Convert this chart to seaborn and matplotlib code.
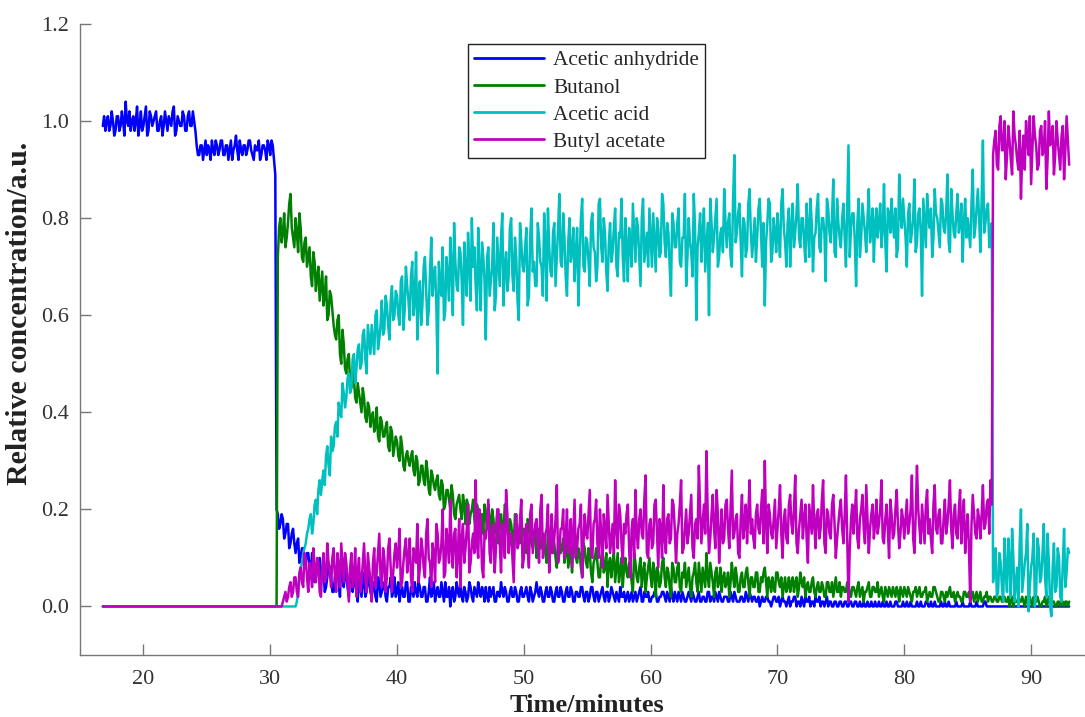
import numpy as np
import pandas as pd
import matplotlib
matplotlib.use("Agg")
import matplotlib.pyplot as plt
import seaborn as sns

# ---- data ----
# Each series is read at two interleaved sample grids:
#   main list : t = 16.8, 17.0, 17.2, ... (every 0.2 min)
#   *_mid     : t = 16.9, 17.1, 17.3, ... (every 0.2 min)
time_start = 16.8
time_start_mid = 16.9
time_step = 0.2

series_names = ["Acetic anhydride", "Butanol", "Acetic acid", "Butyl acetate"]
series_colors = ["#0000ff", "#008000", "#00bfbf", "#bf00bf"]

acetic_anhydride = [0.99,
    0.98, 1.01, 0.99, 1.00, 0.98,
    1.01, 0.99, 1.00, 1.04, 0.99,
    0.98, 1.01, 1.00, 0.97, 1.02,
    0.99, 1.03, 0.98, 1.01, 1.00,
    1.02, 0.98, 1.01, 0.99, 1.00,
    1.01, 0.99, 1.03, 0.98, 1.00,
    0.99, 1.01, 0.98, 1.02, 0.99,
    1.00, 0.95, 0.93, 0.95, 0.94,
    0.93, 0.94, 0.96, 0.93, 0.95,
    0.94, 0.96, 0.93, 0.95, 0.94,
    0.92, 0.95, 0.94, 0.96, 0.93,
    0.95, 0.94, 0.96, 0.93, 0.95,
    0.94, 0.92, 0.95, 0.94, 0.96,
    0.93, 0.95, 0.89, 0.19, 0.17,
    0.18, 0.15, 0.17, 0.13, 0.16,
    0.11, 0.14, 0.10, 0.12, 0.09,
    0.11, 0.07, 0.10, 0.06, 0.09,
    0.05, 0.08, 0.04, 0.09, 0.06,
    0.03, 0.07, 0.05, 0.10, 0.04,
    0.06, 0.02, 0.08, 0.05, 0.03,
    0.06, 0.02, 0.05, 0.03, 0.07,
    0.02, 0.04, 0.01, 0.05, 0.03,
    0.05, 0.01, 0.04, 0.02, 0.06,
    0.03, 0.01, 0.04, 0.02, 0.05,
    0.01, 0.03, 0.05, 0.02, 0.04,
    0.02, 0.04, 0.01, 0.06, 0.03,
    0.01, 0.04, 0.02, 0.03, 0.05,
    0.02, 0.00, 0.04, 0.02, 0.03,
    0.05, 0.01, 0.03, 0.02, 0.04,
    0.01, 0.03, 0.05, 0.02, 0.03,
    0.04, 0.01, 0.02, 0.04, 0.01,
    0.03, 0.05, 0.02, 0.03, 0.01,
    0.04, 0.02, 0.03, 0.01, 0.04,
    0.02, 0.04, 0.01, 0.03, 0.02,
    0.05, 0.02, 0.03, 0.01, 0.04,
    0.02, 0.03, 0.01, 0.04, 0.02,
    0.03, 0.01, 0.04, 0.02, 0.03,
    0.01, 0.03, 0.02, 0.04, 0.01,
    0.03, 0.02, 0.04, 0.01, 0.03,
    0.02, 0.04, 0.01, 0.03, 0.02,
    0.03, 0.01, 0.02, 0.04, 0.02,
    0.01, 0.03, 0.02, 0.01, 0.03,
    0.02, 0.04, 0.01, 0.02, 0.03,
    0.01, 0.02, 0.03, 0.01, 0.02,
    0.03, 0.01, 0.02, 0.04, 0.01,
    0.02, 0.03, 0.01, 0.02, 0.01,
    0.03, 0.01, 0.02, 0.01, 0.03,
    0.01, 0.02, 0.01, 0.03, 0.02,
    0.01, 0.02, 0.03, 0.01, 0.02,
    0.02, 0.01, 0.02, 0.03, 0.01,
    0.01, 0.02, 0.01, 0.02, 0.03,
    0.01, 0.02, 0.01, 0.00, 0.02,
    0.01, 0.02, 0.01, 0.01, 0.02,
    0.01, 0.00, 0.02, 0.01, 0.01,
    0.00, 0.01, 0.02, 0.01, 0.00,
    0.01, 0.02, 0.01, 0.00, 0.01,
    0.02, 0.01, 0.00, 0.01, 0.01,
    0.00, 0.01, 0.00, 0.01, 0.00,
    0.01, 0.00, 0.01, 0.00, 0.01,
    0.00, 0.01, 0.00, 0.00, 0.01,
    0.00, 0.00, 0.01, 0.00, 0.00,
    0.01, 0.00, 0.00, 0.01, 0.00,
    0.00, 0.00, 0.01, 0.00, 0.00,
    0.00, 0.01, 0.00, 0.00, 0.00,
    0.01, 0.00, 0.00, 0.00, 0.01,
    0.00, 0.00, 0.01, 0.00, 0.00,
    0.00, 0.01, 0.00, 0.00, 0.00,
    0.00, 0.00, 0.00, 0.01, 0.00,
    0.00, 0.01, 0.00, 0.00, 0.00,
    0.00, 0.00, 0.01, 0.00, 0.00,
    0.00, 0.00, 0.00, 0.00, 0.00,
    0.00, 0.00, 0.00, 0.00, 0.00,
    0.00, 0.00, 0.00, 0.00, 0.00,
    0.00, 0.00, 0.00, 0.00, 0.00,
    0.00, 0.00, 0.00, 0.00, 0.00,
    0.00, 0.00, 0.00, 0.00, 0.00,
    0.00]

acetic_anhydride_mid = [1.01,
    1.00, 0.98, 1.02, 0.97, 1.01,
    0.98, 1.02, 0.97, 1.00, 1.02,
    1.00, 0.98, 1.03, 0.99, 0.98,
    1.01, 0.97, 1.02, 0.99, 1.01,
    0.98, 1.00, 0.97, 1.02, 0.98,
    1.00, 1.02, 0.97, 1.01, 0.99,
    1.02, 0.98, 1.01, 0.99, 1.02,
    0.98, 0.93, 0.95, 0.92, 0.96,
    0.95, 0.92, 0.94, 0.96, 0.93,
    0.96, 0.93, 0.95, 0.92, 0.96,
    0.94, 0.97, 0.92, 0.94, 0.95,
    0.93, 0.96, 0.94, 0.92, 0.94,
    0.96, 0.93, 0.95, 0.92, 0.95,
    0.96, 0.92, 0.20, 0.16, 0.19,
    0.14, 0.17, 0.12, 0.15, 0.13,
    0.13, 0.09, 0.12, 0.08, 0.11,
    0.08, 0.11, 0.05, 0.08, 0.10,
    0.07, 0.03, 0.06, 0.08, 0.03,
    0.06, 0.09, 0.02, 0.06, 0.08,
    0.04, 0.07, 0.03, 0.06, 0.01,
    0.04, 0.07, 0.02, 0.05, 0.03,
    0.05, 0.02, 0.06, 0.02, 0.04,
    0.02, 0.04, 0.06, 0.03, 0.02,
    0.05, 0.03, 0.02, 0.05, 0.01,
    0.04, 0.02, 0.03, 0.05, 0.02,
    0.04, 0.01, 0.03, 0.02, 0.05,
    0.03, 0.02, 0.05, 0.01, 0.02,
    0.04, 0.03, 0.01, 0.05, 0.02,
    0.02, 0.04, 0.01, 0.05, 0.02,
    0.04, 0.02, 0.03, 0.04, 0.01,
    0.02, 0.04, 0.03, 0.01, 0.03,
    0.02, 0.03, 0.04, 0.01, 0.03,
    0.02, 0.04, 0.01, 0.03, 0.02,
    0.03, 0.02, 0.04, 0.01, 0.03,
    0.03, 0.04, 0.01, 0.03, 0.02,
    0.04, 0.01, 0.03, 0.02, 0.04,
    0.01, 0.03, 0.02, 0.04, 0.01,
    0.03, 0.02, 0.04, 0.02, 0.03,
    0.01, 0.04, 0.02, 0.03, 0.01,
    0.03, 0.02, 0.03, 0.01, 0.04,
    0.02, 0.03, 0.01, 0.02, 0.03,
    0.02, 0.01, 0.03, 0.02, 0.01,
    0.03, 0.01, 0.03, 0.02, 0.01,
    0.02, 0.03, 0.01, 0.02, 0.03,
    0.02, 0.03, 0.01, 0.02, 0.03,
    0.01, 0.02, 0.03, 0.01, 0.02,
    0.02, 0.03, 0.01, 0.02, 0.01,
    0.02, 0.01, 0.03, 0.01, 0.02,
    0.03, 0.01, 0.02, 0.01, 0.02,
    0.01, 0.03, 0.01, 0.02, 0.01,
    0.02, 0.01, 0.03, 0.01, 0.02,
    0.02, 0.01, 0.02, 0.01, 0.01,
    0.02, 0.01, 0.00, 0.02, 0.01,
    0.02, 0.01, 0.01, 0.00, 0.02,
    0.01, 0.02, 0.00, 0.01, 0.02,
    0.00, 0.01, 0.02, 0.01, 0.00,
    0.01, 0.02, 0.01, 0.00, 0.02,
    0.01, 0.00, 0.01, 0.00, 0.01,
    0.00, 0.01, 0.00, 0.01, 0.00,
    0.01, 0.00, 0.01, 0.00, 0.00,
    0.01, 0.00, 0.00, 0.01, 0.00,
    0.00, 0.01, 0.00, 0.00, 0.01,
    0.00, 0.01, 0.00, 0.00, 0.01,
    0.00, 0.00, 0.01, 0.00, 0.00,
    0.00, 0.01, 0.00, 0.01, 0.00,
    0.01, 0.00, 0.00, 0.00, 0.01,
    0.00, 0.00, 0.01, 0.00, 0.00,
    0.01, 0.00, 0.00, 0.00, 0.00,
    0.00, 0.00, 0.00, 0.01, 0.00,
    0.00, 0.01, 0.00, 0.00, 0.00,
    0.00, 0.00, 0.00, 0.00, 0.00,
    0.00, 0.00, 0.00, 0.00, 0.00,
    0.00, 0.00, 0.00, 0.00, 0.00,
    0.00, 0.00, 0.00, 0.00, 0.00,
    0.00, 0.00, 0.00, 0.00, 0.00,
    0.00, 0.00, 0.00, 0.00, 0.00]

butanol = [0.0] * 69 + [0.72, 0.80,
    0.77, 0.74, 0.79, 0.85, 0.76,
    0.80, 0.73, 0.78, 0.71, 0.76,
    0.72, 0.68, 0.73, 0.65, 0.70,
    0.66, 0.62, 0.68, 0.60, 0.64,
    0.58, 0.55, 0.60, 0.50, 0.54,
    0.48, 0.52, 0.45, 0.47, 0.42,
    0.44, 0.40, 0.43, 0.38, 0.41,
    0.39, 0.36, 0.41, 0.34, 0.38,
    0.35, 0.38, 0.32, 0.36, 0.33,
    0.34, 0.30, 0.33, 0.28, 0.32,
    0.29, 0.32, 0.27, 0.30, 0.26,
    0.29, 0.25, 0.28, 0.23, 0.27,
    0.24, 0.27, 0.22, 0.25, 0.21,
    0.24, 0.20, 0.23, 0.18, 0.22,
    0.20, 0.23, 0.17, 0.21, 0.19,
    0.22, 0.16, 0.20, 0.18, 0.15,
    0.19, 0.21, 0.14, 0.18, 0.16,
    0.13, 0.19, 0.16, 0.20, 0.14,
    0.17, 0.12, 0.18, 0.15, 0.13,
    0.16, 0.11, 0.17, 0.13, 0.15,
    0.10, 0.16, 0.12, 0.14, 0.09,
    0.15, 0.11, 0.13, 0.08, 0.14,
    0.12, 0.09, 0.14, 0.10, 0.07,
    0.13, 0.09, 0.11, 0.06, 0.12,
    0.08, 0.11, 0.05, 0.10, 0.09,
    0.06, 0.12, 0.08, 0.04, 0.10,
    0.09, 0.05, 0.11, 0.07, 0.04,
    0.10, 0.06, 0.08, 0.03, 0.09,
    0.05, 0.10, 0.07, 0.03, 0.08,
    0.06, 0.09, 0.02, 0.07, 0.05,
    0.10, 0.04, 0.07, 0.02, 0.08,
    0.05, 0.09, 0.03, 0.06, 0.04,
    0.08, 0.02, 0.07, 0.05, 0.09,
    0.03, 0.06, 0.11, 0.04, 0.07,
    0.02, 0.08, 0.05, 0.03, 0.07,
    0.05, 0.02, 0.09, 0.04, 0.06,
    0.03, 0.07, 0.04, 0.08, 0.02,
    0.06, 0.04, 0.07, 0.03, 0.05,
    0.08, 0.02, 0.05, 0.06, 0.03,
    0.07, 0.04, 0.02, 0.06, 0.04,
    0.03, 0.06, 0.05, 0.02, 0.07,
    0.04, 0.02, 0.05, 0.03, 0.06,
    0.02, 0.05, 0.03, 0.04, 0.02,
    0.05, 0.03, 0.02, 0.06, 0.03,
    0.02, 0.04, 0.03, 0.05, 0.02,
    0.04, 0.02, 0.05, 0.03, 0.01,
    0.03, 0.05, 0.02, 0.04, 0.03,
    0.02, 0.04, 0.01, 0.03, 0.04,
    0.02, 0.03, 0.04, 0.01, 0.03,
    0.04, 0.02, 0.03, 0.01, 0.03,
    0.02, 0.04, 0.02, 0.03, 0.01,
    0.03, 0.02, 0.04, 0.02, 0.01,
    0.03, 0.01, 0.02, 0.04, 0.02,
    0.01, 0.03, 0.02, 0.01, 0.03,
    0.02, 0.01, 0.03, 0.02, 0.01,
    0.03, 0.01, 0.02, 0.01, 0.02,
    0.01, 0.02, 0.01, 0.02, 0.01,
    0.01, 0.02, 0.01, 0.00, 0.01,
    0.02, 0.01, 0.01, 0.02, 0.00,
    0.01, 0.02, 0.01, 0.01, 0.00,
    0.01, 0.00, 0.02, 0.01, 0.01,
    0.00, 0.01, 0.01, 0.00, 0.01,
    0.01]

butanol_mid = [0.0] * 69 + [0.78, 0.75,
    0.81, 0.76, 0.83, 0.78, 0.74,
    0.77, 0.81, 0.72, 0.75, 0.70,
    0.74, 0.66, 0.71, 0.68, 0.63,
    0.69, 0.64, 0.59, 0.65, 0.61,
    0.56, 0.59, 0.52, 0.57, 0.49,
    0.51, 0.46, 0.49, 0.43, 0.46,
    0.42, 0.45, 0.39, 0.42, 0.37,
    0.40, 0.37, 0.35, 0.39, 0.35,
    0.37, 0.33, 0.37, 0.31, 0.35,
    0.31, 0.35, 0.29, 0.31, 0.30,
    0.31, 0.28, 0.31, 0.25, 0.29,
    0.26, 0.30, 0.24, 0.28, 0.25,
    0.26, 0.23, 0.26, 0.20, 0.24,
    0.22, 0.25, 0.19, 0.21, 0.23,
    0.18, 0.21, 0.22, 0.17, 0.20,
    0.18, 0.21, 0.15, 0.19, 0.21,
    0.16, 0.18, 0.20, 0.15, 0.19,
    0.17, 0.15, 0.21, 0.16, 0.18,
    0.14, 0.19, 0.13, 0.17, 0.16,
    0.13, 0.18, 0.14, 0.12, 0.16,
    0.14, 0.12, 0.15, 0.11, 0.16,
    0.12, 0.14, 0.10, 0.13, 0.11,
    0.14, 0.11, 0.08, 0.12, 0.13,
    0.10, 0.12, 0.08, 0.13, 0.09,
    0.12, 0.07, 0.09, 0.12, 0.06,
    0.10, 0.07, 0.11, 0.09, 0.06,
    0.11, 0.08, 0.05, 0.10, 0.08,
    0.07, 0.09, 0.05, 0.11, 0.06,
    0.08, 0.04, 0.09, 0.06, 0.10,
    0.04, 0.07, 0.08, 0.04, 0.09,
    0.06, 0.08, 0.04, 0.09, 0.05,
    0.08, 0.04, 0.07, 0.09, 0.06,
    0.04, 0.06, 0.09, 0.03, 0.06,
    0.08, 0.04, 0.06, 0.09, 0.05,
    0.07, 0.04, 0.08, 0.06, 0.04,
    0.07, 0.05, 0.06, 0.08, 0.03,
    0.06, 0.04, 0.07, 0.05, 0.06,
    0.04, 0.07, 0.03, 0.06, 0.07,
    0.05, 0.06, 0.03, 0.04, 0.07,
    0.05, 0.06, 0.04, 0.03, 0.06,
    0.05, 0.03, 0.06, 0.04, 0.05,
    0.06, 0.04, 0.03, 0.05, 0.03,
    0.04, 0.03, 0.05, 0.02, 0.05,
    0.03, 0.05, 0.04, 0.03, 0.05,
    0.04, 0.03, 0.05, 0.02, 0.04,
    0.03, 0.04, 0.02, 0.04, 0.03,
    0.04, 0.02, 0.04, 0.03, 0.05,
    0.03, 0.02, 0.04, 0.02, 0.03,
    0.04, 0.02, 0.03, 0.04, 0.02,
    0.03, 0.04, 0.02, 0.03, 0.04,
    0.03, 0.02, 0.03, 0.04, 0.02,
    0.02, 0.04, 0.03, 0.01, 0.03,
    0.02, 0.03, 0.03, 0.02, 0.03,
    0.02, 0.02, 0.01, 0.03, 0.02,
    0.03, 0.02, 0.01, 0.03, 0.02,
    0.01, 0.02, 0.03, 0.02, 0.01,
    0.02, 0.01, 0.02, 0.01, 0.02,
    0.01, 0.00, 0.02, 0.01, 0.01,
    0.01, 0.02, 0.00, 0.01, 0.02,
    0.00, 0.01, 0.02, 0.00, 0.01,
    0.02, 0.01, 0.00, 0.01, 0.00,
    0.01, 0.00, 0.01, 0.01, 0.00]

acetic_acid = [0.0] * 76 + [
    0.00, 0.03, 0.08, 0.11, 0.13,
    0.16, 0.19, 0.17, 0.22, 0.24,
    0.23, 0.28, 0.31, 0.29, 0.35,
    0.33, 0.38, 0.42, 0.39, 0.44,
    0.43, 0.48, 0.45, 0.52, 0.49,
    0.54, 0.50, 0.57, 0.48, 0.55,
    0.58, 0.52, 0.61, 0.55, 0.63,
    0.57, 0.62, 0.55, 0.66, 0.60,
    0.64, 0.58, 0.68, 0.61, 0.66,
    0.59, 0.71, 0.63, 0.55, 0.67,
    0.62, 0.72, 0.58, 0.69, 0.64,
    0.70, 0.48, 0.66, 0.74, 0.61,
    0.68, 0.76, 0.60, 0.71, 0.65,
    0.73, 0.58, 0.69, 0.77, 0.63,
    0.70, 0.66, 0.78, 0.61, 0.72,
    0.55, 0.74, 0.67, 0.79, 0.64,
    0.71, 0.76, 0.62, 0.73, 0.68,
    0.80, 0.65, 0.72, 0.59, 0.75,
    0.69, 0.78, 0.64, 0.82, 0.71,
    0.66, 0.76, 0.70, 0.81, 0.63,
    0.74, 0.68, 0.79, 0.72, 0.85,
    0.70, 0.76, 0.64, 0.80, 0.73,
    0.67, 0.78, 0.72, 0.84, 0.69,
    0.75, 0.66, 0.81, 0.73, 0.70,
    0.84, 0.71, 0.77, 0.65, 0.79,
    0.73, 0.82, 0.68, 0.76, 0.72,
    0.80, 0.67, 0.75, 0.83, 0.71,
    0.78, 0.66, 0.84, 0.74, 0.70,
    0.76, 0.81, 0.69, 0.78, 0.73,
    0.83, 0.72, 0.77, 0.64, 0.79,
    0.74, 0.82, 0.70, 0.76, 0.66,
    0.80, 0.73, 0.85, 0.59, 0.77,
    0.71, 0.82, 0.74, 0.60, 0.79,
    0.76, 0.84, 0.72, 0.78, 0.86,
    0.74, 0.81, 0.70, 0.93, 0.77,
    0.83, 0.68, 0.79, 0.74, 0.86,
    0.72, 0.80, 0.76, 0.84, 0.70,
    0.62, 0.79, 0.83, 0.73, 0.77,
    0.81, 0.72, 0.86, 0.75, 0.79,
    0.70, 0.83, 0.77, 0.87, 0.74,
    0.80, 0.71, 0.78, 0.84, 0.69,
    0.77, 0.85, 0.73, 0.80, 0.67,
    0.82, 0.75, 0.88, 0.72, 0.79,
    0.74, 0.83, 0.70, 0.95, 0.78,
    0.81, 0.66, 0.84, 0.76, 0.80,
    0.73, 0.86, 0.78, 0.71, 0.82,
    0.79, 0.74, 0.87, 0.69, 0.81,
    0.84, 0.76, 0.72, 0.89, 0.78,
    0.80, 0.70, 0.83, 0.77, 0.88,
    0.75, 0.82, 0.64, 0.79, 0.85,
    0.78, 0.72, 0.86, 0.80, 0.74,
    0.83, 0.77, 0.89, 0.73, 0.81,
    0.76, 0.85, 0.79, 0.71, 0.84,
    0.80, 0.74, 0.90, 0.78, 0.86,
    0.73, 0.96, 0.79, 0.83, 0.76,
    0.05, 0.12, 0.03, 0.09, 0.01,
    0.07, 0.14, 0.02, 0.10, 0.05,
    0.00, 0.20, 0.06, 0.11, -0.01,
    0.08, 0.15, 0.03, 0.12, 0.06,
    0.17, 0.02, 0.09, -0.02, 0.13,
    0.04, 0.10, 0.01, 0.16, 0.07,
    0.11]

acetic_acid_mid = [0.0] * 76 + [
    0.01, 0.06, 0.09, 0.12, 0.15,
    0.18, 0.15, 0.21, 0.19, 0.26,
    0.26, 0.25, 0.33, 0.27, 0.32,
    0.37, 0.35, 0.40, 0.46, 0.41,
    0.47, 0.44, 0.51, 0.46, 0.53,
    0.49, 0.56, 0.51, 0.58, 0.52,
    0.55, 0.60, 0.53, 0.58, 0.56,
    0.64, 0.58, 0.63, 0.59, 0.65,
    0.60, 0.67, 0.57, 0.70, 0.63,
    0.68, 0.60, 0.73, 0.64, 0.58,
    0.70, 0.65, 0.61, 0.76, 0.68,
    0.62, 0.71, 0.64, 0.59, 0.72,
    0.63, 0.70, 0.79, 0.66, 0.74,
    0.67, 0.75, 0.64, 0.71, 0.80,
    0.74, 0.61, 0.69, 0.75, 0.67,
    0.72, 0.64, 0.70, 0.61, 0.76,
    0.66, 0.81, 0.70, 0.65, 0.78,
    0.68, 0.76, 0.63, 0.79, 0.70,
    0.74, 0.62, 0.76, 0.69, 0.66,
    0.79, 0.71, 0.64, 0.75, 0.82,
    0.69, 0.77, 0.66, 0.78, 0.71,
    0.81, 0.68, 0.75, 0.71, 0.78,
    0.73, 0.62, 0.80, 0.70, 0.76,
    0.71, 0.79, 0.74, 0.67, 0.83,
    0.74, 0.80, 0.69, 0.75, 0.71,
    0.78, 0.70, 0.77, 0.84, 0.67,
    0.74, 0.78, 0.70, 0.77, 0.80,
    0.72, 0.80, 0.71, 0.77, 0.82,
    0.70, 0.75, 0.80, 0.72, 0.85,
    0.75, 0.79, 0.70, 0.81, 0.74,
    0.79, 0.71, 0.76, 0.85, 0.72,
    0.75, 0.68, 0.78, 0.74, 0.81,
    0.77, 0.69, 0.79, 0.84, 0.73,
    0.80, 0.70, 0.77, 0.73, 0.79,
    0.79, 0.72, 0.84, 0.75, 0.81,
    0.75, 0.80, 0.72, 0.83, 0.77,
    0.76, 0.71, 0.82, 0.77, 0.79,
    0.75, 0.84, 0.71, 0.80, 0.73,
    0.76, 0.83, 0.78, 0.70, 0.82,
    0.78, 0.74, 0.81, 0.76, 0.80,
    0.75, 0.83, 0.72, 0.79, 0.76,
    0.82, 0.74, 0.80, 0.77, 0.84,
    0.77, 0.80, 0.73, 0.84, 0.76,
    0.80, 0.76, 0.82, 0.72, 0.81,
    0.75, 0.79, 0.72, 0.83, 0.77,
    0.80, 0.75, 0.82, 0.79, 0.76,
    0.83, 0.78, 0.75, 0.82, 0.77,
    0.79, 0.82, 0.74, 0.81, 0.84,
    0.76, 0.81, 0.75, 0.80, 0.73,
    0.81, 0.77, 0.84, 0.74, 0.80,
    0.82, 0.76, 0.81, 0.77, 0.84,
    0.78, 0.81, 0.75, 0.86, 0.77,
    0.81, 0.77, 0.83, 0.79, 0.76,
    0.77, 0.83, 0.76, 0.82, 0.80,
    0.84, 0.77, 0.82, 0.74, 0.79,
    0.08, 0.02, 0.11, 0.04, 0.14,
    0.03, 0.09, 0.16, 0.01, 0.08,
    0.13, 0.03, 0.09, 0.17, 0.04,
    0.10, 0.00, 0.14, 0.05, 0.11,
    0.06, 0.15, 0.00, 0.08, 0.03,
    0.12, 0.02, 0.09, 0.04, 0.12]

butyl_acetate = [0.0] * 71 + [
    0.01, 0.03, 0.02, 0.05, 0.03,
    0.06, 0.02, 0.08, 0.04, 0.10,
    0.03, 0.07, 0.12, 0.05, 0.09,
    0.02, 0.11, 0.06, 0.09, 0.04,
    0.12, 0.03, 0.08, 0.13, 0.05,
    0.09, 0.01, 0.11, 0.06, 0.02,
    0.10, 0.05, 0.13, 0.03, 0.08,
    0.01, 0.12, 0.07, 0.15, 0.04,
    0.10, 0.06, 0.14, 0.03, 0.11,
    0.08, 0.16, 0.05, 0.12, 0.07,
    0.14, 0.03, 0.11, 0.17, 0.08,
    0.12, 0.06, 0.18, 0.09, 0.13,
    0.05, 0.15, 0.10, 0.20, 0.07,
    0.13, 0.22, 0.08, 0.16, 0.11,
    0.04, 0.17, 0.12, 0.21, 0.09,
    0.15, 0.26, 0.10, 0.18, 0.06,
    0.14, 0.22, 0.09, 0.17, 0.12,
    0.20, 0.07, 0.16, 0.24, 0.11,
    0.15, 0.05, 0.19, 0.13, 0.22,
    0.10, 0.17, 0.08, 0.21, 0.14,
    0.18, 0.09, 0.23, 0.12, 0.16,
    0.07, 0.19, 0.14, 0.25, 0.11,
    0.16, 0.10, 0.20, 0.13, 0.08,
    0.22, 0.12, 0.17, 0.06, 0.19,
    0.14, 0.24, 0.10, 0.18, 0.13,
    0.20, 0.08, 0.16, 0.23, 0.11,
    0.17, 0.26, 0.12, 0.19, 0.09,
    0.15, 0.21, 0.06, 0.18, 0.24,
    0.12, 0.20, 0.14, 0.27, 0.10,
    0.18, 0.13, 0.22, 0.08, 0.16,
    0.25, 0.11, 0.19, 0.14, 0.21,
    0.09, 0.17, 0.26, 0.12, 0.20,
    0.15, 0.23, 0.10, 0.18, 0.29,
    0.13, 0.21, 0.32, 0.11, 0.19,
    0.16, 0.24, 0.09, 0.20, 0.14,
    0.22, 0.12, 0.28, 0.15, 0.19,
    0.10, 0.23, 0.17, 0.13, 0.26,
    0.18, 0.12, 0.21, 0.15, 0.24,
    0.30, 0.11, 0.19, 0.14, 0.22,
    0.16, 0.25, 0.10, 0.20, 0.13,
    0.23, 0.15, 0.27, 0.11, 0.19,
    0.14, 0.21, 0.09, 0.18, 0.25,
    0.12, 0.20, 0.16, 0.26, 0.11,
    0.19, 0.14, 0.23, 0.10, 0.17,
    0.22, 0.13, 0.27, 0.01, 0.18,
    0.15, 0.24, 0.12, 0.20, 0.16,
    0.25, 0.11, 0.19, 0.14, 0.22,
    0.17, 0.26, 0.13, 0.21, 0.10,
    0.19, 0.15, 0.24, 0.12, 0.20,
    0.14, 0.22, 0.17, 0.27, 0.11,
    0.29, 0.16, 0.21, 0.13, 0.24,
    0.18, 0.11, 0.25, 0.15, 0.20,
    0.13, 0.22, 0.17, 0.26, 0.12,
    0.21, 0.14, 0.24, 0.18, 0.11,
    0.19, 0.01, 0.23, 0.15, 0.20,
    0.14, 0.25, 0.17, 0.22, 0.26,
    0.93, 0.98, 0.90, 1.01, 0.94,
    0.88, 0.99, 0.92, 1.02, 0.95,
    0.90, 0.84, 0.97, 1.00, 0.93,
    0.87, 1.01, 0.95, 0.91, 0.99,
    0.94, 0.86, 1.02, 0.96, 0.89,
    1.00, 0.93, 0.97, 0.88, 1.01,
    0.91]

butyl_acetate_mid = [0.0] * 71 + [
    0.02, 0.01, 0.04, 0.02, 0.06,
    0.03, 0.07, 0.05, 0.11, 0.06,
    0.09, 0.04, 0.08, 0.10, 0.03,
    0.08, 0.05, 0.13, 0.07, 0.10,
    0.06, 0.11, 0.04, 0.09, 0.11,
    0.05, 0.08, 0.04, 0.12, 0.07,
    0.03, 0.09, 0.06, 0.11, 0.05,
    0.09, 0.04, 0.11, 0.06, 0.12,
    0.03, 0.12, 0.08, 0.07, 0.13,
    0.11, 0.04, 0.09, 0.14, 0.10,
    0.06, 0.12, 0.09, 0.05, 0.14,
    0.08, 0.15, 0.10, 0.04, 0.11,
    0.17, 0.09, 0.13, 0.06, 0.16,
    0.09, 0.12, 0.15, 0.06, 0.18,
    0.14, 0.09, 0.16, 0.07, 0.13,
    0.11, 0.13, 0.20, 0.08, 0.15,
    0.18, 0.11, 0.16, 0.07, 0.20,
    0.13, 0.17, 0.10, 0.19, 0.15,
    0.10, 0.16, 0.12, 0.18, 0.08,
    0.15, 0.12, 0.19, 0.11, 0.17,
    0.13, 0.20, 0.10, 0.15, 0.21,
    0.14, 0.11, 0.18, 0.09, 0.16,
    0.20, 0.14, 0.11, 0.18, 0.15,
    0.10, 0.16, 0.21, 0.13, 0.15,
    0.19, 0.11, 0.17, 0.22, 0.10,
    0.15, 0.19, 0.12, 0.17, 0.14,
    0.11, 0.16, 0.21, 0.13, 0.17,
    0.19, 0.12, 0.16, 0.10, 0.15,
    0.18, 0.15, 0.22, 0.11, 0.17,
    0.12, 0.21, 0.15, 0.18, 0.10,
    0.14, 0.18, 0.13, 0.22, 0.16,
    0.15, 0.21, 0.11, 0.16, 0.13,
    0.19, 0.12, 0.17, 0.14, 0.20,
    0.17, 0.15, 0.19, 0.14, 0.23,
    0.12, 0.19, 0.15, 0.13, 0.21,
    0.16, 0.20, 0.14, 0.18, 0.11,
    0.18, 0.14, 0.21, 0.19, 0.15,
    0.14, 0.19, 0.16, 0.20, 0.13,
    0.17, 0.21, 0.15, 0.18, 0.12,
    0.20, 0.15, 0.18, 0.14, 0.21,
    0.17, 0.20, 0.13, 0.16, 0.22,
    0.18, 0.14, 0.21, 0.15, 0.17,
    0.19, 0.14, 0.22, 0.13, 0.20,
    0.15, 0.21, 0.17, 0.14, 0.20,
    0.16, 0.19, 0.14, 0.12, 0.21,
    0.19, 0.14, 0.18, 0.23, 0.13,
    0.18, 0.16, 0.21, 0.17, 0.15,
    0.20, 0.14, 0.18, 0.16, 0.22,
    0.14, 0.20, 0.17, 0.15, 0.18,
    0.18, 0.15, 0.20, 0.14, 0.19,
    0.20, 0.13, 0.17, 0.21, 0.15,
    0.14, 0.21, 0.16, 0.19, 0.13,
    0.18, 0.15, 0.21, 0.16, 0.19,
    0.15, 0.20, 0.13, 0.22, 0.16,
    0.12, 0.17, 0.19, 0.14, 0.18,
    0.19, 0.16, 0.21, 0.15, 0.21,
    0.96, 0.91, 0.99, 0.94, 1.00,
    0.93, 0.96, 0.89, 0.97, 0.92,
    0.98, 0.93, 0.90, 0.96, 1.01,
    0.94, 0.97, 0.90, 0.98, 0.93,
    1.00, 0.92, 0.95, 0.99, 0.93,
    0.96, 0.90, 0.99, 0.94, 0.96]

x_ticks = [20, 30, 40, 50, 60, 70, 80, 90]
y_ticks = [0.0, 0.2, 0.4, 0.6, 0.8, 1.0, 1.2]

# ---- build long table ----
main_lists = [acetic_anhydride, butanol, acetic_acid, butyl_acetate]
mid_lists = [acetic_anhydride_mid, butanol_mid, acetic_acid_mid, butyl_acetate_mid]
frames = []
for name, vals, vals_mid in zip(series_names, main_lists, mid_lists):
    t_a = np.round(time_start + time_step * np.arange(len(vals)), 2)
    t_b = np.round(time_start_mid + time_step * np.arange(len(vals_mid)), 2)
    d = pd.DataFrame({"Time": np.concatenate([t_a, t_b]),
                      "Value": list(vals) + list(vals_mid),
                      "Series": name}).sort_values("Time")
    frames.append(d)
df = pd.concat(frames, ignore_index=True)

sns.set_style("white")
plt.rcParams["font.family"] = ["Liberation Serif", "DejaVu Serif"]

fig = plt.figure(figsize=(10.85, 7.17), dpi=100)
ax = fig.add_axes([80 / 1085, 62 / 717, 1005 / 1085, 631 / 717])

sns.lineplot(data=df, x="Time", y="Value", hue="Series",
             hue_order=series_names, palette=series_colors,
             estimator=None, sort=True, linewidth=1.8, ax=ax)

ax.set_xlim(15, 94.25)
ax.set_ylim(-0.1, 1.2)
ax.set_xticks(x_ticks)
ax.set_yticks(y_ticks)
ax.set_yticklabels([f"{v:.1f}" for v in y_ticks])

for s in ["top", "right"]:
    ax.spines[s].set_visible(False)
for s in ["left", "bottom"]:
    ax.spines[s].set_color("#777777")
    ax.spines[s].set_linewidth(1.0)

ax.tick_params(axis="both", which="major", bottom=True, left=True,
               direction="in", length=8, width=1.0,
               color="#777777", labelsize=16, labelcolor="#333333")
ax.tick_params(axis="x", pad=11)
ax.tick_params(axis="y", pad=8)

ax.set_xlabel("Time/minutes", fontsize=19, fontweight="bold", color="#222222")
ax.set_ylabel("Relative concentration/a.u.", fontsize=21.5, fontweight="bold", color="#222222")
ax.xaxis.set_label_coords(0.504, -0.062)
ax.yaxis.set_label_coords(-0.047, 0.542)

leg = ax.legend(loc="upper left", bbox_to_anchor=(0.386, 0.968), borderaxespad=0,
                fontsize=15.3, frameon=True, fancybox=False, framealpha=1,
                edgecolor="#222222", handlelength=3.3, handletextpad=0.4,
                labelspacing=0.34, borderpad=0.3)
leg.get_frame().set_linewidth(1.0)
for line in leg.get_lines():
    line.set_linewidth(2.0)

fig.savefig("out.png", dpi=100)
